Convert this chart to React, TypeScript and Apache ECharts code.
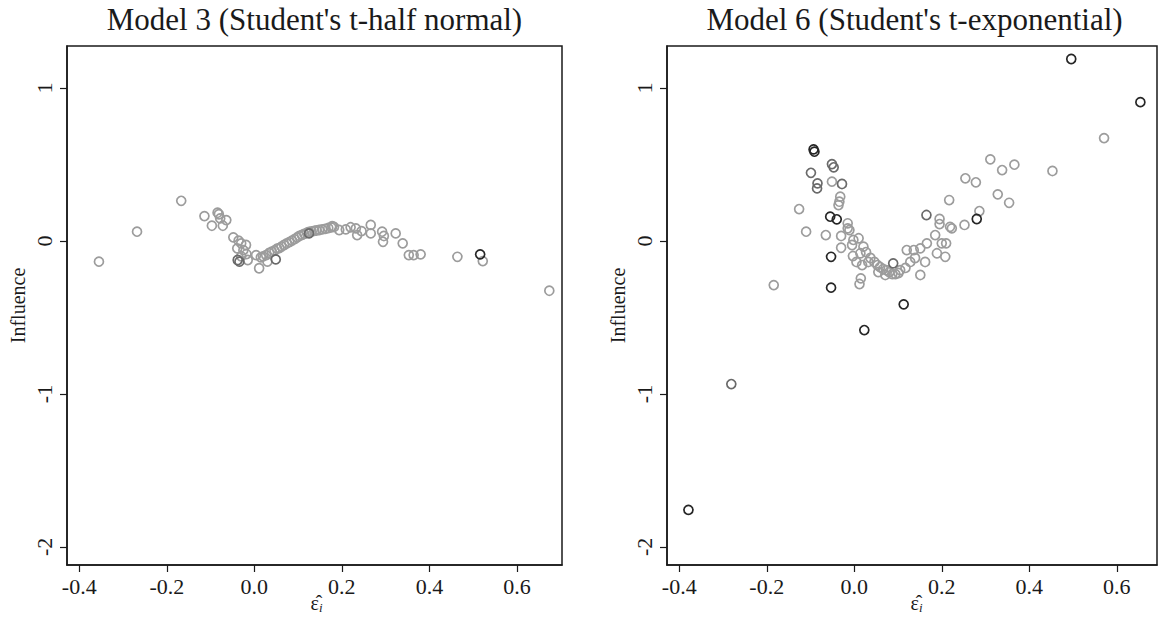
import React, { useEffect, useRef } from "react";
import * as echarts from "echarts";

// Model 3 (Student's t-half normal): [residual, influence]
const m3Light: number[][] = [
  [-0.355, -0.135], [-0.268, 0.061], [-0.167, 0.263], [-0.114, 0.163], [-0.097, 0.1],
  [-0.084, 0.185], [-0.081, 0.175], [-0.078, 0.148], [-0.064, 0.137], [-0.072, 0.1],
  [-0.048, 0.024], [-0.036, 0.002], [-0.03, -0.015], [-0.039, -0.048], [-0.019, -0.026],
  [-0.018, -0.085], [-0.015, -0.124], [0.004, -0.092], [0.011, -0.178], [0.015, -0.107],
  [0.03, -0.135], [-0.03, -0.1], [-0.025, -0.06],
  [0.02, -0.1], [0.027, -0.092], [0.034, -0.078], [0.04, -0.07], [0.046, -0.062],
  [0.052, -0.05], [0.057, -0.046], [0.062, -0.036], [0.068, -0.026], [0.074, -0.016],
  [0.08, -0.007], [0.086, 0.003], [0.092, 0.013], [0.098, 0.024], [0.103, 0.033],
  [0.109, 0.04], [0.114, 0.047], [0.12, 0.054], [0.125, 0.059], [0.131, 0.063],
  [0.137, 0.066], [0.142, 0.069], [0.148, 0.072], [0.155, 0.076], [0.162, 0.08],
  [0.169, 0.085], [0.176, 0.089], [0.182, 0.092],
  [0.178, 0.098], [0.194, 0.072], [0.209, 0.076], [0.22, 0.09], [0.232, 0.083],
  [0.235, 0.039], [0.245, 0.065], [0.266, 0.105], [0.266, 0.05], [0.292, 0.061],
  [0.296, 0.033], [0.294, -0.005], [0.323, 0.05], [0.339, -0.015], [0.353, -0.092],
  [0.364, -0.092], [0.38, -0.087], [0.464, -0.103], [0.522, -0.131], [0.674, -0.325],
];
const m3Mid: number[][] = [
  [-0.038, -0.124], [-0.034, -0.135], [0.049, -0.12], [0.125, 0.05],
];
const m3Dark: number[][] = [[0.516, -0.087]];

// Model 6 (Student's t-exponential): [residual, influence]
const m6Light: number[][] = [
  [-0.184, -0.288], [-0.126, 0.209], [-0.11, 0.061], [-0.065, 0.039], [-0.051, 0.388],
  [-0.036, 0.235], [-0.034, 0.257], [-0.032, 0.29], [-0.03, 0.033], [-0.03, -0.044],
  [-0.015, 0.116], [-0.015, 0.083], [-0.011, 0.072], [-0.005, -0.026], [-0.003, -0.098],
  [-0.002, 0.007], [0.01, 0.018], [0.014, -0.08], [0.021, -0.037], [0.012, -0.281],
  [0.015, -0.244], [0.005, -0.137], [0.018, -0.157], [0.032, -0.137], [0.027, -0.072],
  [0.037, -0.111], [0.046, -0.137], [0.053, -0.157], [0.059, -0.17], [0.066, -0.183],
  [0.073, -0.19], [0.08, -0.203], [0.087, -0.216], [0.094, -0.216], [0.101, -0.209],
  [0.071, -0.222], [0.055, -0.203], [0.105, -0.19], [0.12, -0.059], [0.136, -0.059],
  [0.151, -0.048], [0.166, -0.015], [0.151, -0.222], [0.128, -0.137], [0.117, -0.176],
  [0.139, -0.111], [0.162, -0.137], [0.185, 0.039], [0.189, -0.08], [0.2, -0.015],
  [0.21, -0.015], [0.208, -0.103], [0.195, 0.144], [0.195, 0.111], [0.219, 0.093],
  [0.223, 0.083], [0.252, 0.105], [0.217, 0.268], [0.286, 0.196], [0.254, 0.41],
  [0.278, 0.384], [0.311, 0.534], [0.338, 0.464], [0.366, 0.499], [0.328, 0.305],
  [0.354, 0.25], [0.453, 0.458], [0.571, 0.673],
];
const m6Mid: number[][] = [
  [-0.281, -0.935], [-0.099, 0.446], [-0.085, 0.344], [-0.084, 0.377], [-0.051, 0.503],
  [-0.047, 0.482], [-0.028, 0.373], [0.165, 0.17], [0.089, -0.146],
];
const m6Dark: number[][] = [
  [-0.379, -1.758], [-0.093, 0.599], [-0.091, 0.584], [-0.055, 0.159], [-0.053, -0.103],
  [-0.053, -0.305], [-0.04, 0.142], [0.023, -0.582], [0.113, -0.414], [0.28, 0.144],
  [0.496, 1.19], [0.654, 0.908],
];

const titles = ["Model 3 (Student's t-half normal)", "Model 6 (Student's t-exponential)"];
const xTicks = [-0.4, -0.2, 0.0, 0.2, 0.4, 0.6];
const yTicks = [-2, -1, 0, 1];
const yLabel = "Influence";
const xLabel = "{e|\u03B5\u0302}{s|i}";

const FONT = "'Liberation Serif', 'DejaVu Serif', serif";
const INK = "#1a1a1a";
const SHADES = ["#9c9c9c", "#6a6a6a", "#262626"];

export default function App() {
  const ref = useRef<HTMLDivElement>(null);
  useEffect(() => {
    if (!ref.current) return;
    const chart = echarts.init(ref.current, undefined, { renderer: "svg" });
    const grids = [
      { left: 67, top: 46, width: 495, height: 519 },
      { left: 667, top: 46, width: 490, height: 519 },
    ];
    const xRanges = [
      [-0.428, 0.703],
      [-0.428, 0.692],
    ];
    const mkX = (i: number) => ({
      type: "value",
      gridIndex: i,
      min: xRanges[i][0],
      max: xRanges[i][1],
      splitLine: { show: false },
      axisLine: { show: true, onZero: false, lineStyle: { color: INK, width: 1.5 } },
      axisTick: {
        show: true,
        customValues: xTicks,
        length: 7,
        lineStyle: { color: INK, width: 1.2 },
      },
      axisLabel: {
        customValues: xTicks,
        formatter: (v: number) => v.toFixed(1),
        color: INK,
        fontFamily: FONT,
        fontSize: 22,
        margin: 10,
      },
    });
    const mkY = (i: number) => ({
      type: "value",
      gridIndex: i,
      min: -2.118,
      max: 1.275,
      splitLine: { show: false },
      axisLine: { show: true, onZero: false, lineStyle: { color: INK, width: 1.5 } },
      axisTick: {
        show: true,
        customValues: yTicks,
        length: 7,
        lineStyle: { color: INK, width: 1.2 },
      },
      axisLabel: {
        customValues: yTicks,
        formatter: (v: number) => String(v),
        rotate: 90,
        color: INK,
        fontFamily: FONT,
        fontSize: 22,
        margin: 12,
      },
      name: yLabel,
      nameLocation: "middle",
      nameRotate: 90,
      nameGap: 39,
      nameTextStyle: { fontFamily: FONT, fontSize: 20, color: INK },
    });
    const mkSeries = (data: number[][], i: number, shade: number) => ({
      type: "scatter",
      xAxisIndex: i,
      yAxisIndex: i,
      data,
      symbol: "circle",
      symbolSize: 9,
      itemStyle: { color: "transparent", borderColor: SHADES[shade], borderWidth: 1.7, opacity: 1 },
      silent: true,
    });
    const titleTexts = titles.map((t, i) => ({
      type: "text",
      x: grids[i].left + 495 / 2,
      y: 19,
      style: {
        text: t,
        fontFamily: FONT,
        fontSize: 31,
        fill: INK,
        textAlign: "center",
        textVerticalAlign: "middle",
      },
    }));
    const xNames = grids.map((g) => ({
      type: "text",
      x: g.left + 495 / 2 + 2,
      y: 603,
      style: {
        text: xLabel,
        textAlign: "center",
        textVerticalAlign: "middle",
        rich: {
          e: { fontFamily: FONT, fontSize: 20, fill: INK },
          s: { fontFamily: FONT, fontSize: 13, fontStyle: "italic", fill: INK, padding: [8, 0, 0, 0] },
        },
      },
    }));
    chart.setOption({
      animation: false,
      backgroundColor: "#ffffff",
      grid: grids.map((g) => ({
        ...g,
        show: true,
        containLabel: false,
        outerBoundsMode: "none",
        borderColor: INK,
        borderWidth: 1.5,
        backgroundColor: "transparent",
      })),
      xAxis: [mkX(0), mkX(1)],
      yAxis: [mkY(0), mkY(1)],
      series: [
        mkSeries(m3Light, 0, 0),
        mkSeries(m3Mid, 0, 1),
        mkSeries(m3Dark, 0, 2),
        mkSeries(m6Light, 1, 0),
        mkSeries(m6Mid, 1, 1),
        mkSeries(m6Dark, 1, 2),
      ],
      graphic: [...titleTexts, ...xNames],
    });
    return () => chart.dispose();
  }, []);
  return (
    <div
      ref={ref}
      style={{ position: "fixed", left: 0, top: 0, width: 1159, height: 617, background: "#fff" }}
    />
  );
}
